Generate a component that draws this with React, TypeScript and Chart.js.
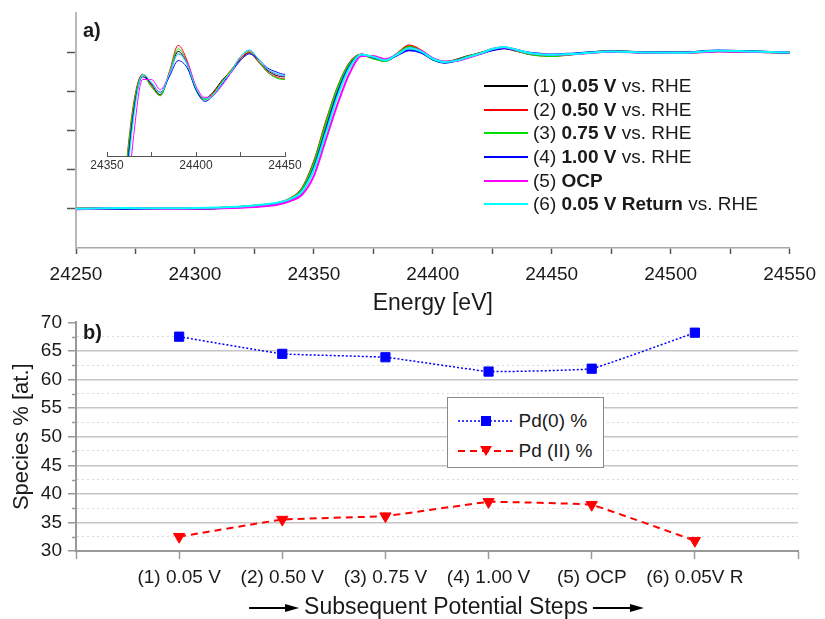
import React, { useEffect, useRef } from 'react';
import { Chart, registerables } from 'chart.js';
Chart.register(...registerables);

const FONT = '"Liberation Sans", Arial, Helvetica, sans-serif';
const TXT = '#1a1a1a';

// ---------- panel a) XANES spectra ----------
const energy = [24250, 24270, 24290, 24310, 24325, 24335, 24340, 24345, 24350, 24355, 24360, 24365, 24370, 24375, 24380, 24385, 24390, 24395, 24400, 24405, 24410, 24415, 24420, 24425, 24430, 24435, 24440, 24445, 24450, 24460, 24475, 24490, 24505, 24520, 24535, 24550];

const spec1 = [0.000, 0.002, 0.000, 0.005, 0.018, 0.035, 0.060, 0.120, 0.280, 0.530, 0.760, 0.920, 0.985, 0.965, 0.945, 0.985, 1.030, 1.005, 0.955, 0.937, 0.952, 0.975, 0.993, 1.015, 1.027, 1.010, 0.993, 0.983, 0.980, 0.990, 1.006, 0.998, 0.997, 1.008, 1.004, 0.997];
const spec2 = [0.001, 0.003, 0.001, 0.006, 0.020, 0.038, 0.065, 0.130, 0.300, 0.550, 0.775, 0.930, 0.985, 0.962, 0.944, 0.990, 1.042, 1.012, 0.958, 0.938, 0.950, 0.973, 0.995, 1.017, 1.028, 1.010, 0.990, 0.980, 0.976, 0.988, 1.004, 0.997, 0.996, 1.007, 1.003, 0.996];
const spec3 = [0.000, 0.002, 0.000, 0.006, 0.020, 0.037, 0.063, 0.125, 0.290, 0.540, 0.770, 0.925, 0.982, 0.960, 0.943, 0.987, 1.035, 1.008, 0.953, 0.935, 0.948, 0.972, 0.994, 1.020, 1.030, 1.012, 0.990, 0.978, 0.975, 0.989, 1.005, 0.998, 0.996, 1.006, 1.002, 0.996];
const spec4 = [-0.001, 0.001, 0.001, 0.004, 0.016, 0.033, 0.058, 0.110, 0.260, 0.500, 0.740, 0.910, 0.980, 0.968, 0.950, 0.980, 1.012, 0.998, 0.955, 0.932, 0.945, 0.968, 0.990, 1.012, 1.025, 1.015, 0.998, 0.990, 0.985, 0.992, 1.004, 0.999, 0.998, 1.010, 1.005, 0.997];
const spec5 = [-0.002, 0.006, -0.001, 0.003, 0.012, 0.028, 0.050, 0.090, 0.210, 0.440, 0.670, 0.865, 0.975, 0.975, 0.955, 0.985, 1.025, 1.010, 0.962, 0.940, 0.945, 0.965, 0.990, 1.020, 1.032, 1.015, 0.995, 0.986, 0.982, 0.988, 1.003, 0.996, 0.995, 1.004, 1.001, 0.998];
const spec6 = [0.001, 0.005, 0.004, 0.009, 0.022, 0.040, 0.062, 0.110, 0.250, 0.480, 0.720, 0.900, 0.985, 0.970, 0.948, 0.985, 1.025, 1.005, 0.958, 0.937, 0.946, 0.970, 0.992, 1.020, 1.033, 1.016, 0.996, 0.987, 0.983, 0.990, 1.005, 0.998, 0.997, 1.009, 1.004, 0.998];

const spectra = [spec1, spec2, spec3, spec4, spec5, spec6];
const specColors = ['#000000', '#ff0000', '#00e000', '#0000ff', '#ff00ff', '#00ffff'];
const legNum = ['(1) ', '(2) ', '(3) ', '(4) ', '(5) ', '(6) '];
const legBold = ['0.05 V', '0.50 V', '0.75 V', '1.00 V', 'OCP', '0.05 V Return'];
const legTail = [' vs. RHE', ' vs. RHE', ' vs. RHE', ' vs. RHE', '', ' vs. RHE'];

// ---------- panel b) species ----------
const stepPos = [1, 2, 3, 4, 5, 6];
const stepLabels = ['(1) 0.05 V', '(2) 0.50 V', '(3) 0.75 V', '(4) 1.00 V', '(5) OCP', '(6) 0.05V R'];
const pd0 = [67.5, 64.5, 63.9, 61.4, 61.9, 68.2];
const pd2 = [32.5, 35.5, 36.1, 38.6, 38.1, 31.8];

const isMajor = (v: number) => Math.abs(v / 5 - Math.round(v / 5)) < 1e-6;

export default function App() {
  const topRef = useRef<HTMLCanvasElement>(null);
  const insetRef = useRef<HTMLCanvasElement>(null);
  const botRef = useRef<HTMLCanvasElement>(null);

  useEffect(() => {
    const charts: Chart[] = [];
    const mkSpecData = (w: number) =>
      spectra.map((vals, i) => ({
        label: legBold[i],
        data: energy.map((e, j) => ({ x: e, y: vals[j] })),
        borderColor: specColors[i],
        backgroundColor: specColors[i],
        borderWidth: w,
        pointRadius: 0,
        cubicInterpolationMode: 'monotone' as const,
        fill: false,
        order: spectra.length - i,
      }));

    charts.push(
      new Chart(topRef.current!, {
        type: 'line',
        data: { datasets: mkSpecData(2) as any },
        options: {
          animation: false,
          responsive: false,
          maintainAspectRatio: false,
          layout: { padding: { top: 13, right: 27, left: 0, bottom: 0 } },
          plugins: { legend: { display: false }, tooltip: { enabled: false } },
          scales: {
            x: {
              type: 'linear',
              min: 24250,
              max: 24550,
              ticks: {
                stepSize: 25,
                autoSkip: false,
                maxRotation: 0,
                color: TXT,
                font: { family: FONT, size: 19 },
                padding: 9,
                callback: (v: any) => (Number(v) % 50 === 0 ? String(v) : ''),
              },
              grid: { drawOnChartArea: false, tickLength: 6, tickColor: '#555', tickWidth: 1.5 },
              border: { color: '#a8a8a8', width: 1.5 },
              title: {
                display: true,
                text: 'Energy [eV]',
                color: TXT,
                font: { family: FONT, size: 23 },
                padding: { top: 0, bottom: 3 },
              },
              afterFit: (s: any) => {
                s.height = 72;
              },
            },
            y: {
              type: 'linear',
              min: -0.25,
              max: 1.25,
              ticks: { stepSize: 0.25, display: false },
              grid: {
                drawOnChartArea: false,
                tickLength: 9,
                tickWidth: 1.5,
                tickColor: (c: any) =>
                  c.tick && c.tick.value > -0.01 && c.tick.value < 1.01 ? '#555' : 'rgba(0,0,0,0)',
              },
              border: { color: '#b8b8b8', width: 2 },
              afterFit: (s: any) => {
                s.width = 76;
              },
            },
          },
        } as any,
      })
    );

    charts.push(
      new Chart(insetRef.current!, {
        type: 'line',
        data: { datasets: mkSpecData(1) as any },
        options: {
          animation: false,
          responsive: false,
          maintainAspectRatio: false,
          layout: { padding: { top: 11, right: 35, left: 37, bottom: 0 } },
          plugins: { legend: { display: false }, tooltip: { enabled: false } },
          scales: {
            x: {
              type: 'linear',
              min: 24350,
              max: 24450,
              ticks: {
                stepSize: 25,
                autoSkip: false,
                maxRotation: 0,
                color: '#333',
                font: { family: FONT, size: 12 },
                padding: 6,
                callback: (v: any) => (Number(v) % 50 === 0 ? String(v) : ''),
              },
              grid: { drawOnChartArea: false, tickLength: -4, tickColor: '#555', tickWidth: 1 },
              border: { color: '#555', width: 1 },
              afterFit: (s: any) => {
                s.height = 24;
              },
            },
            y: { type: 'linear', display: false, min: 0.825, max: 1.07 },
          },
        } as any,
      })
    );

    const decoPlugin = {
      id: 'deco',
      afterDraw(chart: any) {
        const { ctx, chartArea, scales } = chart;
        const y = scales.y;
        ctx.save();
        // short minor ticks
        ctx.strokeStyle = '#999';
        ctx.lineWidth = 1.5;
        y.ticks.forEach((t: any) => {
          if (!isMajor(t.value)) {
            const py = Math.round(y.getPixelForValue(t.value)) + 0.5;
            ctx.beginPath();
            ctx.moveTo(y.right - 4, py);
            ctx.lineTo(y.right, py);
            ctx.stroke();
          }
        });
        // x-axis title with arrows
        const text = 'Subsequent Potential Steps';
        ctx.font = `23px ${FONT}`;
        ctx.fillStyle = TXT;
        ctx.textAlign = 'center';
        ctx.textBaseline = 'middle';
        const cx = (chartArea.left + chartArea.right) / 2 + 9;
        const cy = chartArea.bottom + 57;
        ctx.fillText(text, cx, cy);
        const w = ctx.measureText(text).width;
        const drawArrow = (x0: number, x1: number) => {
          ctx.strokeStyle = '#000';
          ctx.fillStyle = '#000';
          ctx.lineWidth = 2;
          ctx.beginPath();
          ctx.moveTo(x0, cy);
          ctx.lineTo(x1 - 10, cy);
          ctx.stroke();
          ctx.beginPath();
          ctx.moveTo(x1, cy);
          ctx.lineTo(x1 - 14, cy - 4);
          ctx.lineTo(x1 - 14, cy + 4);
          ctx.closePath();
          ctx.fill();
        };
        drawArrow(cx - w / 2 - 55, cx - w / 2 - 5);
        drawArrow(cx + w / 2 + 5, cx + w / 2 + 56);
        ctx.restore();
      },
    };

    charts.push(
      new Chart(botRef.current!, {
        type: 'line',
        data: {
          datasets: [
            {
              label: 'Pd(0) %',
              data: stepPos.map((s, i) => ({ x: s, y: pd0[i] })),
              borderColor: '#0000ff',
              backgroundColor: '#0000ff',
              borderWidth: 1.5,
              borderDash: [2, 2],
              pointStyle: 'rect',
              pointRadius: 6.5,
              pointBorderWidth: 1,
              pointBorderColor: '#0000ff',
              pointBackgroundColor: '#0000ff',
              tension: 0.08,
            },
            {
              label: 'Pd (II) %',
              data: stepPos.map((s, i) => ({ x: s, y: pd2[i] })),
              borderColor: '#ff0000',
              backgroundColor: '#ff0000',
              borderWidth: 2,
              borderDash: [7, 5],
              pointStyle: 'triangle',
              pointRotation: 180,
              pointRadius: 6.5,
              pointBorderWidth: 1,
              pointBorderColor: '#ff0000',
              pointBackgroundColor: '#ff0000',
              tension: 0.05,
            },
          ],
        } as any,
        options: {
          animation: false,
          responsive: false,
          maintainAspectRatio: false,
          layout: { padding: { top: 12, right: 27, left: 0, bottom: 0 } },
          plugins: { legend: { display: false }, tooltip: { enabled: false } },
          scales: {
            x: {
              type: 'linear',
              min: 0,
              max: 7,
              ticks: {
                stepSize: 1,
                autoSkip: false,
                maxRotation: 0,
                color: TXT,
                font: { family: FONT, size: 19 },
                padding: 7.5,
                callback: (v: any) => stepLabels[Number(v) - 1] ?? '',
              },
              grid: { drawOnChartArea: false, tickLength: 8, tickColor: '#999', tickWidth: 1.5 },
              border: { color: '#999', width: 2 },
              afterFit: (s: any) => {
                s.height = 68;
              },
            },
            y: {
              type: 'linear',
              min: 30,
              max: 70,
              ticks: {
                stepSize: 2.5,
                autoSkip: false,
                color: TXT,
                font: { family: FONT, size: 19 },
                padding: 6,
                callback: (v: any) => (isMajor(Number(v)) ? String(v) : ''),
              },
              grid: {
                color: (c: any) => {
                  const v = c.tick ? c.tick.value : 0;
                  if (v >= 69.9 || v <= 30.1) return 'rgba(0,0,0,0)';
                  return isMajor(v) ? '#c6c6c6' : '#dadada';
                },
                lineWidth: (c: any) => (c.tick && isMajor(c.tick.value) ? 1.5 : 1),
                tickLength: 8,
                tickWidth: 1.5,
                tickColor: (c: any) => (c.tick && isMajor(c.tick.value) ? '#999' : 'rgba(0,0,0,0)'),
              },
              border: {
                color: '#999',
                width: 2,
                dash: (c: any) => (c && c.tick && !isMajor(c.tick.value) ? [2, 3] : []),
              },
              title: {
                display: true,
                text: 'Species % [at.]',
                color: TXT,
                font: { family: FONT, size: 22 },
                padding: { top: 9, bottom: 0 },
              },
              afterFit: (s: any) => {
                s.width = 76;
              },
            },
          },
        } as any,
        plugins: [decoPlugin],
      })
    );

    return () => charts.forEach((c) => c.destroy());
  }, []);

  const rowCenters = [86, 109.5, 133, 157, 180.5, 204];

  return (
    <div
      style={{
        position: 'absolute',
        left: 0,
        top: 0,
        width: 825,
        height: 619,
        background: '#fff',
        fontFamily: FONT,
        color: TXT,
        overflow: 'hidden',
      }}
    >
      <canvas ref={topRef} width={825} height={320} style={{ position: 'absolute', left: 0, top: 0 }} />
      <canvas ref={botRef} width={825} height={314} style={{ position: 'absolute', left: 0, top: 305 }} />
      <canvas ref={insetRef} width={250} height={160} style={{ position: 'absolute', left: 70, top: 20 }} />

      <div style={{ position: 'absolute', left: 83, top: 18, fontSize: 20, lineHeight: '24px', fontWeight: 'bold' }}>a)</div>
      <div style={{ position: 'absolute', left: 83, top: 320, fontSize: 20, lineHeight: '24px', fontWeight: 'bold' }}>b)</div>

      {legBold.map((b, i) => (
        <div
          key={i}
          style={{
            position: 'absolute',
            left: 484,
            top: rowCenters[i] - 11,
            height: 22,
            lineHeight: '22px',
            fontSize: 19,
            whiteSpace: 'nowrap',
            display: 'flex',
            alignItems: 'center',
          }}
        >
          <span style={{ display: 'inline-block', width: 44, height: 2, background: specColors[i], marginRight: 5 }} />
          <span>
            {legNum[i]}
            <b>{b}</b>
            {legTail[i]}
          </span>
        </div>
      ))}

      <div
        style={{
          position: 'absolute',
          left: 447,
          top: 397,
          width: 157,
          height: 71,
          boxSizing: 'border-box',
          border: '1.5px solid #8a8a8a',
          background: '#fff',
        }}
      >
        <div style={{ position: 'absolute', left: 9.5, top: 22.5 - 8, width: 56, height: 16 }}>
          <svg width={56} height={16}>
            <line x1={0} y1={8} x2={56} y2={8} stroke="#0000ff" strokeWidth={1.5} strokeDasharray="2 2" />
            <rect x={23} y={3} width={10} height={10} fill="#0000ff" />
          </svg>
        </div>
        <div style={{ position: 'absolute', left: 70.5, top: 22.5 - 11, height: 22, lineHeight: '22px', fontSize: 19, whiteSpace: 'nowrap' }}>
          Pd(0) %
        </div>
        <div style={{ position: 'absolute', left: 9.5, top: 52.5 - 8, width: 56, height: 16 }}>
          <svg width={56} height={16}>
            <line x1={0} y1={8} x2={56} y2={8} stroke="#ff0000" strokeWidth={2} strokeDasharray="7 5" />
            <polygon points="22,3 34,3 28,13" fill="#ff0000" />
          </svg>
        </div>
        <div style={{ position: 'absolute', left: 70.5, top: 52.5 - 11, height: 22, lineHeight: '22px', fontSize: 19, whiteSpace: 'nowrap' }}>
          Pd (II) %
        </div>
      </div>
    </div>
  );
}
